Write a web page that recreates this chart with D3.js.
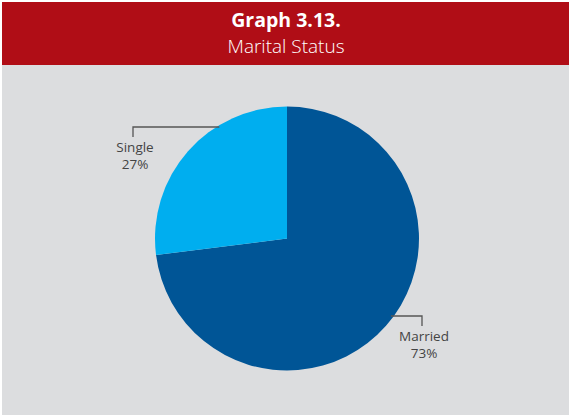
<!DOCTYPE html>
<html>
<head>
<meta charset="utf-8">
<script src="https://cdn.jsdelivr.net/npm/d3@7"></script>
<style>
  body { margin: 0; background: #fff; }
  text { font-family: "Open Sans", "Noto Sans", sans-serif; }
</style>
</head>
<body>
<script>

// data
var categories = ["Married", "Single"];
var shares = [73, 27];
var labels = ["73%", "27%"];

// layout
var width = 569, height = 416;
var cx = 287, cy = 238.5, r = 132;

var colour = d3.scaleOrdinal()
    .domain(categories)
    .range(["#005596", "#00aeef"]);

var svg = d3.select("body")
            .append("svg")
            .attr("width", width)
            .attr("height", height);

// grey panel and red header
svg.append("rect")
    .attr("x", 2).attr("y", 65)
    .attr("width", width - 2).attr("height", 350)
    .style("fill", "#dcdddf");

svg.append("rect")
    .attr("x", 2).attr("y", 2)
    .attr("width", width - 2).attr("height", 63)
    .style("fill", "#b00d16");

svg.append("text")
    .attr("x", 286).attr("y", 27)
    .attr("text-anchor", "middle")
    .style("fill", "#fff")
    .style("font-weight", "bold")
    .style("font-size", "19.5px")
    .text("Graph 3.13.");

svg.append("text")
    .attr("x", 286).attr("y", 53)
    .attr("text-anchor", "middle")
    .style("fill", "#fff")
    .style("font-size", "19px")
    .style("font-weight", "300")
    .text("Marital Status");

// the pie, married first, clockwise from 12 o'clock
var pie = d3.pie().sort(null).value(function(d) { return d.value; });
var arc = d3.arc().innerRadius(0).outerRadius(r);

var data = categories.map(function(c, i) {
  return { name: c, value: shares[i], label: labels[i] };
});

var g = svg.append("g")
    .attr("transform", "translate(" + cx + "," + cy + ")");

g.selectAll("path")
    .data(pie(data))
  .enter().append("path")
    .attr("d", arc)
    .style("fill", function(d) { return colour(d.data.name); });

// leader lines: horizontal level and label x, relative to centre
var leaders = {
  "Married": { ly: 77.5, lx: 135 },
  "Single":  { ly: -111.5, lx: -154 }
};

pie(data).forEach(function(d) {
  var l = leaders[d.data.name];
  var side = l.lx > 0 ? 1 : -1;
  var ex = side * Math.sqrt(r * r - l.ly * l.ly) - side * 3;

  g.append("path")
    .attr("d", "M" + ex + "," + l.ly + "H" + l.lx + "V" + (l.ly + 10))
    .style("fill", "none")
    .style("stroke", "#555")
    .style("stroke-width", 1.3);

  g.append("text")
    .attr("x", l.lx + 2).attr("y", l.ly + 25)
    .attr("text-anchor", "middle")
    .style("fill", "#444")
    .style("font-size", "13.5px")
    .text(d.data.name);

  g.append("text")
    .attr("x", l.lx + 2).attr("y", l.ly + 42)
    .attr("text-anchor", "middle")
    .style("fill", "#444")
    .style("font-size", "13.5px")
    .text(d.data.label);
});

</script>
</body>
</html>
